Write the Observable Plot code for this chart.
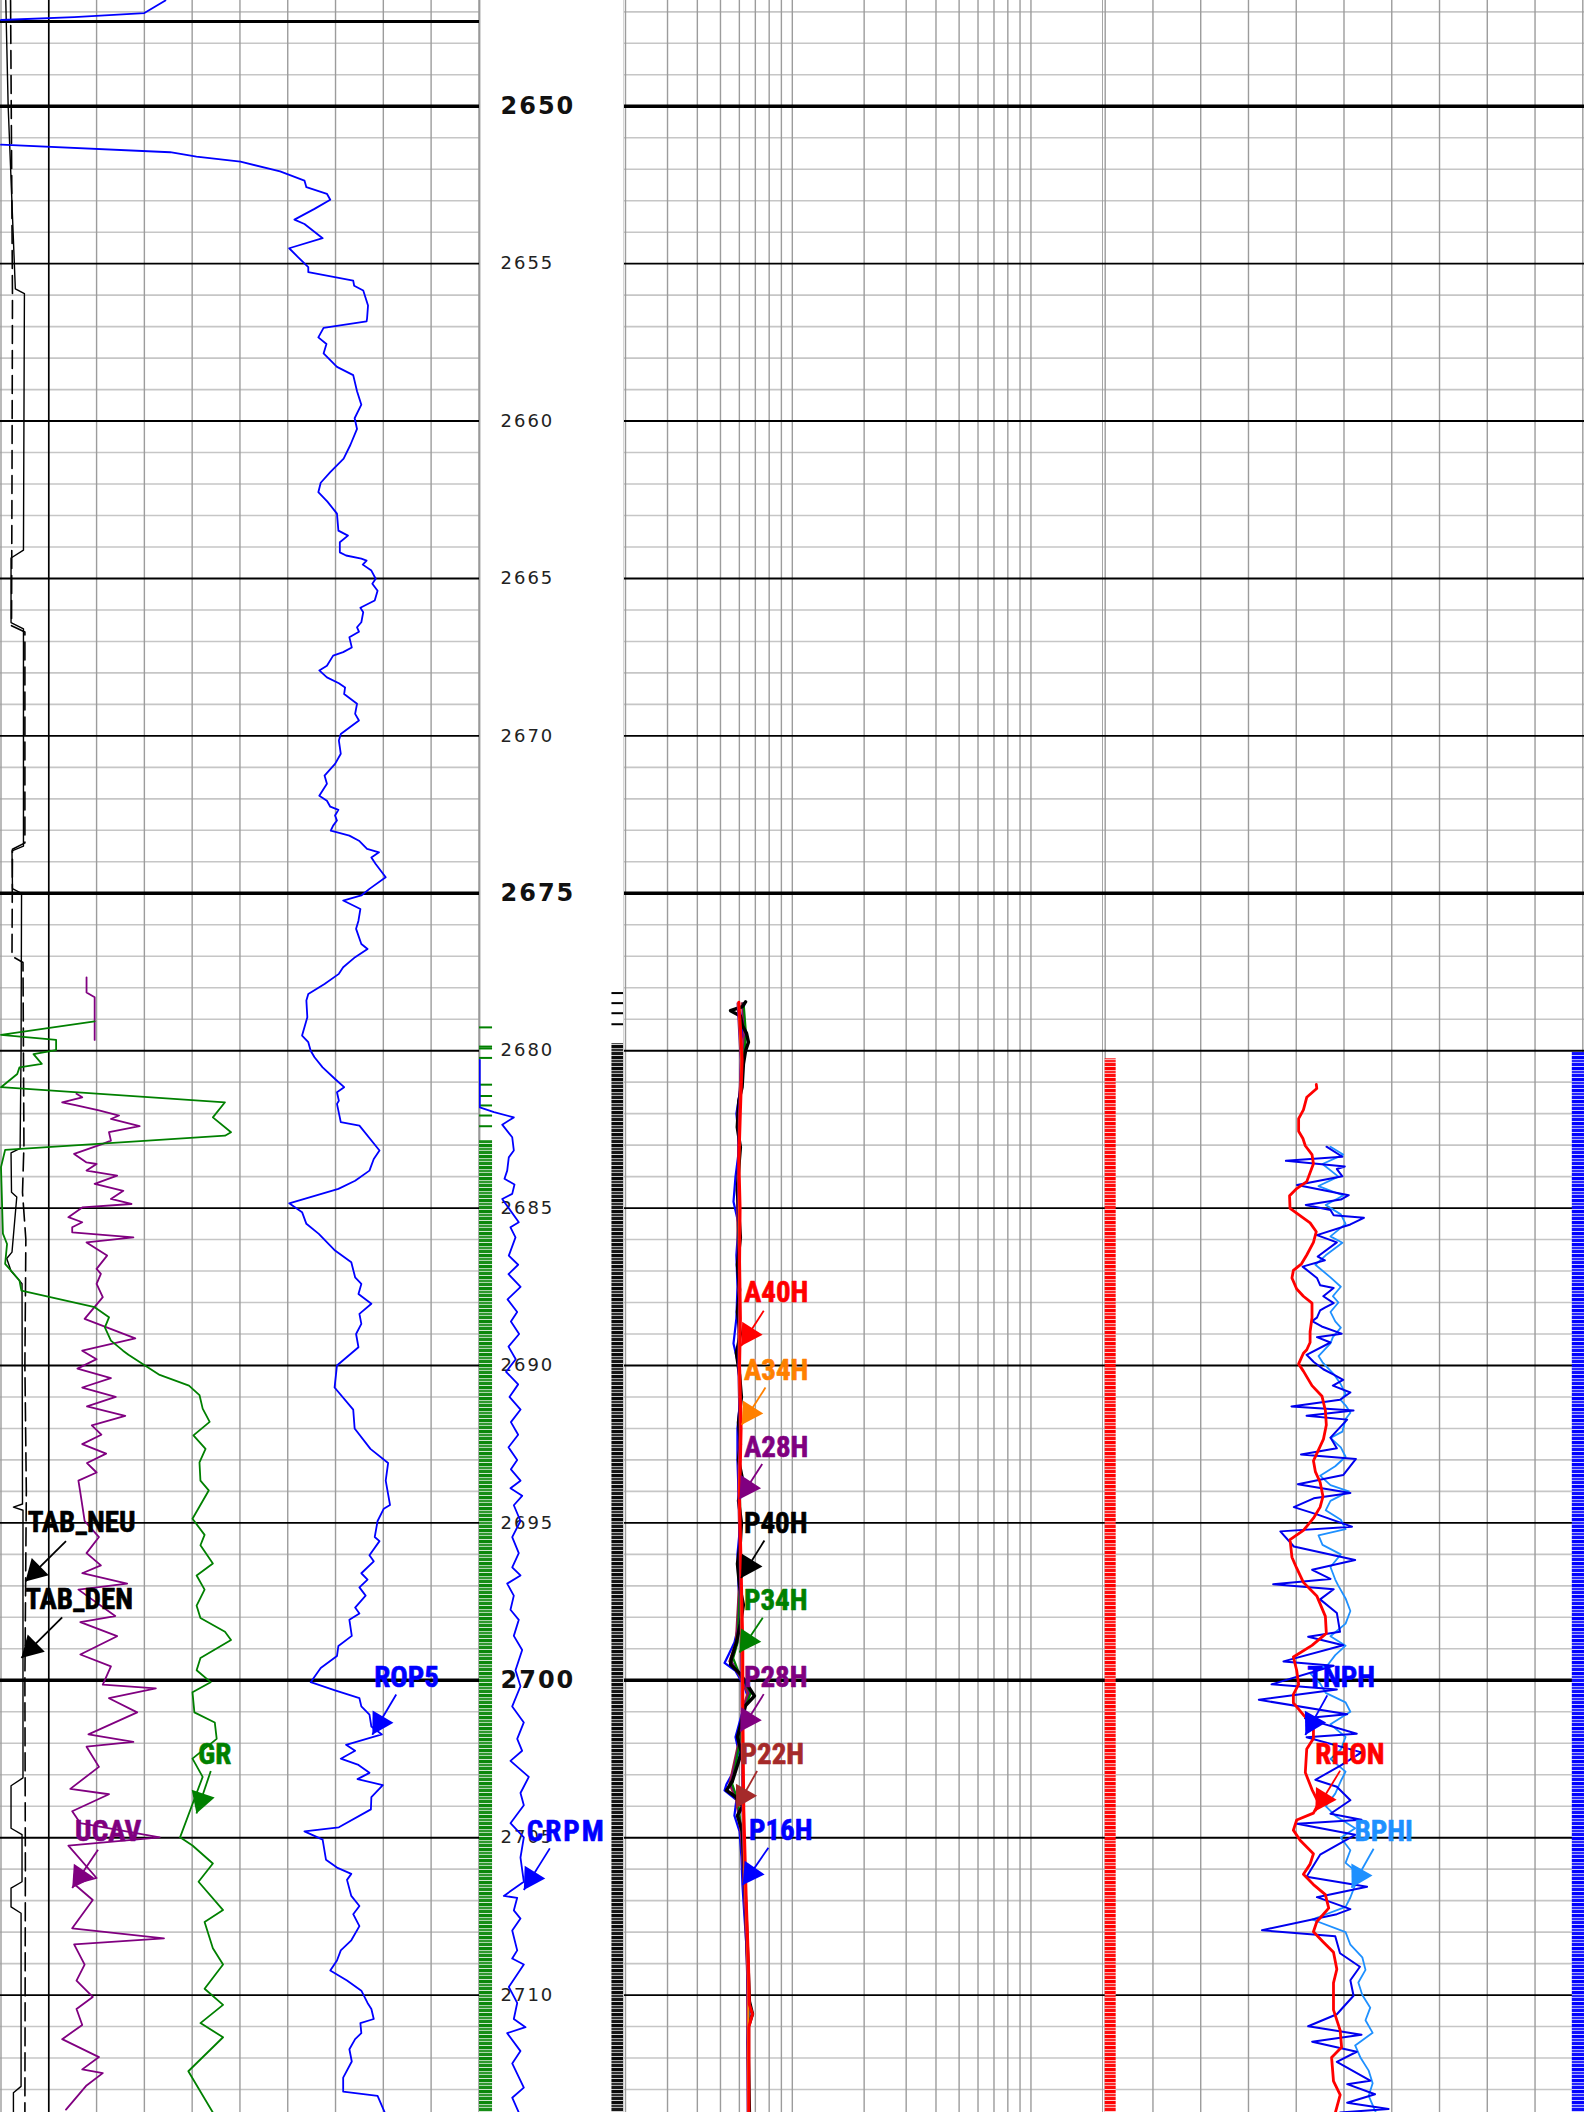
<!DOCTYPE html>
<html><head><meta charset="utf-8">
<script src="https://cdn.jsdelivr.net/npm/d3@7"></script>
<script src="https://cdn.jsdelivr.net/npm/@observablehq/plot@0.6"></script>
<style>
html,body{margin:0;padding:0;background:#fff;}
#wrap{display:flex;flex-direction:row;width:1584px;height:2112px;overflow:hidden;}
#wrap > div{flex:none;height:2112px;}
#wrap svg{display:block;max-width:none;}
</style></head><body><div id="wrap"></div>
<script>
// ---------------- depth window ----------------
const DEPTH_TOP = 2646.64, DEPTH_BOTTOM = 2713.73;
const TRACK1_MARKER = [2647.31];

// ---------------- track 1 curves [depth, value] ----------------
// ROP5 (m/h, 0-100), null = off scale
const ROP5 = [[2646.64,34.4],[2647.04,30.0],[2647.17,15.3],[2647.26,0],[2649,null],[2651.22,0],[2651.46,35.4],[2651.60,40.9],[2651.76,50.1],[2652.07,58.4],[2652.36,63.5],[2652.57,63.9],[2652.78,68.2],[2652.97,68.9],[2653.26,65.6],[2653.60,61.4],[2653.74,63.5],[2654.19,67.3],[2654.51,60.3],[2654.80,62.2],[2655.11,64.3],[2655.27,64.3],[2655.54,73.7],[2655.70,73.9],[2655.85,75.8],[2656.33,76.8],[2656.74,76.6],[2656.83,76.5],[2657.04,67.5],[2657.34,66.4],[2657.55,68.1],[2657.85,67.5],[2658.28,70.3],[2658.54,73.7],[2659.05,74.5],[2659.48,75.4],[2659.91,74.0],[2660.25,74.5],[2660.76,73.1],[2661.19,71.7],[2661.62,68.9],[2661.96,66.9],[2662.26,66.4],[2662.56,68.3],[2662.94,70.3],[2663.48,70.6],[2663.64,72.6],[2663.85,70.9],[2664.17,70.9],[2664.27,72.2],[2664.37,75.4],[2664.43,76.5],[2664.56,75.7],[2664.75,77.5],[2665.01,78.4],[2665.17,77.7],[2665.39,78.8],[2665.70,78.2],[2665.93,75.2],[2666.07,75.8],[2666.39,75.4],[2666.55,74.5],[2666.69,74.9],[2666.87,72.9],[2667.19,73.4],[2667.34,71.6],[2667.45,69.5],[2667.77,68.2],[2667.92,66.6],[2668.14,68.2],[2668.33,70.7],[2668.46,72.0],[2668.67,71.8],[2668.98,74.5],[2669.30,74.1],[2669.51,74.9],[2669.94,71.1],[2670.15,70.7],[2670.57,71.1],[2670.89,69.9],[2671.26,67.7],[2671.52,68.2],[2671.90,66.6],[2672.06,68.2],[2672.25,68.9],[2672.35,70.6],[2672.53,69.9],[2672.69,70.3],[2672.85,69.5],[2673.01,69.0],[2673.17,72.9],[2673.33,74.9],[2673.59,76.6],[2673.70,79.1],[2673.86,77.5],[2674.07,78.4],[2674.49,80.5],[2674.86,77.1],[2675.07,75.4],[2675.23,71.6],[2675.50,75.2],[2675.87,74.8],[2676.13,74.3],[2676.61,75.4],[2676.77,76.7],[2677.03,74.1],[2677.35,71.6],[2677.56,70.7],[2677.88,67.7],[2678.20,64.3],[2678.41,63.9],[2678.94,64.1],[2679.52,63.0],[2679.73,64.3],[2680.00,64.8],[2680.21,65.6],[2680.53,67.3],[2680.90,69.9],[2681.16,71.8],[2681.32,70.3],[2681.59,70.7],[2681.69,70.3],[2682.27,71.1],[2682.38,75.0],[2683.17,79.2],[2683.44,78.0],[2683.81,77.1],[2684.13,74.1],[2684.39,70.6],[2684.85,60.3],[2685.13,63.0],[2685.50,63.9],[2685.82,66.5],[2686.35,69.9],[2686.72,73.3],[2687.20,74.1],[2687.41,75.4],[2687.73,74.8],[2688.04,77.5],[2688.36,75.0],[2688.68,75.4],[2689.00,74.3],[2689.42,74.8],[2690.0,70.3],[2690.7,69.8],[2691.4,73.7],[2692.0,74.0],[2692.65,77.3],[2693.1,81.0],[2693.66,80.5],[2694.43,81.4],[2694.55,80.1],[2694.94,78.8],[2695.45,78.2],[2695.58,79.2],[2696.03,77.1],[2696.22,78.0],[2696.60,75.4],[2696.80,76.7],[2697.05,75.0],[2697.31,76.3],[2697.69,74.1],[2697.88,75.0],[2698.08,72.9],[2698.59,73.4],[2698.91,70.6],[2699.23,70.3],[2699.61,66.9],[2700.06,64.8],[2700.32,69.9],[2700.57,75.0],[2700.83,75.4],[2701.09,77.1],[2701.47,77.5],[2701.72,79.7],[2702.05,72.2],[2702.24,74.1],[2702.49,71.1],[2702.69,74.8],[2702.94,77.1],[2703.14,74.6],[2703.33,79.9],[2703.71,77.5],[2704.10,77.4],[2704.67,70.7],[2704.80,63.5],[2705.06,67.3],[2705.70,68.0],[2705.95,70.3],[2706.15,73.3],[2706.34,72.4],[2706.85,73.3],[2707.17,75.0],[2707.43,73.7],[2707.81,75.0],[2708.26,73.3],[2708.58,71.1],[2708.90,70.3],[2709.22,68.9],[2709.54,72.4],[2709.86,75.4],[2710.25,76.7],[2710.44,77.5],[2710.76,78.0],[2710.89,75.2],[2711.21,75.4],[2711.40,74.1],[2711.72,72.9],[2712.11,73.4],[2712.62,71.6],[2713.07,71.6],[2713.20,78.8],[2713.73,80.3]];

// GR (gAPI, 0-150)
const GR = [[2679.07,29.4],[2679.50,0],[2679.66,17.3],[2679.98,17.3],[2680.11,10.2],[2680.42,12.8],[2680.53,5.8],[2680.74,5.1],[2681.16,0],[2681.64,70.3],[2682.12,66.5],[2682.59,72.2],[2682.70,70.3],[2683.15,1.3],[2683.70,0],[2685.81,0.6],[2686.14,1.9],[2686.77,1.3],[2687.30,5.8],[2687.62,6.4],[2688.15,29.4],[2688.47,33.9],[2688.79,32.6],[2689.21,34.5],[2689.53,38.3],[2689.66,40.0],[2690.30,49.8],[2690.64,59.0],[2690.94,62.3],[2691.37,63.3],[2691.79,65.5],[2692.22,60.4],[2692.65,64.2],[2693.08,62.3],[2693.66,62.6],[2693.97,65.2],[2694.87,60.1],[2695.38,63.9],[2695.71,62.6],[2696.29,66.5],[2696.67,61.4],[2697.12,63.9],[2697.63,61.4],[2698.02,62.6],[2698.46,70.3],[2698.72,72.2],[2699.29,62.6],[2699.68,61.4],[2700.06,65.8],[2700.38,60.1],[2701.02,60.7],[2701.34,67.1],[2701.86,67.7],[2702.49,60.1],[2703.07,63.3],[2703.77,60.7],[2704.99,56.2],[2705.25,60.1],[2705.82,66.5],[2706.40,62.0],[2707.30,69.7],[2707.68,63.9],[2708.51,66.5],[2709.03,69.7],[2709.80,63.9],[2710.31,69.7],[2710.89,62.6],[2711.34,69.7],[2712.42,58.8],[2713.73,66.5]];

// UCAV (in, 6-16)
const UCAV = [[2677.67,7.79],[2678.15,7.79],[2678.30,7.96],[2679.66,7.96],[2680.5,null],[2681.37,7.58],[2681.48,7.70],[2681.64,7.28],[2681.74,7.58],[2681.90,8.05],[2682.06,8.47],[2682.17,8.30],[2682.40,8.90],[2682.59,8.26],[2682.86,8.30],[2682.96,8.13],[2683.28,7.53],[2683.55,7.79],[2683.60,8.00],[2683.81,7.79],[2683.97,8.43],[2684.23,7.96],[2684.45,8.56],[2684.71,8.30],[2684.87,8.73],[2684.98,7.70],[2685.29,7.41],[2685.45,7.70],[2685.61,7.49],[2685.77,7.49],[2685.93,8.77],[2686.09,7.79],[2686.51,8.22],[2686.93,8.00],[2687.09,8.09],[2687.41,8.00],[2687.83,8.13],[2688.52,7.75],[2689.14,8.81],[2689.53,7.70],[2689.8,8.0],[2690.1,7.6],[2690.4,8.3],[2690.7,7.7],[2691.0,8.4],[2691.3,7.8],[2691.6,8.6],[2691.9,7.9],[2692.2,8.1],[2692.5,7.7],[2692.8,8.2],[2693.1,7.8],[2693.4,8.0],[2693.66,7.62],[2694.04,7.66],[2694.94,7.75],[2695.45,8.05],[2695.96,7.79],[2696.35,8.09],[2696.60,7.70],[2696.93,8.64],[2697.12,7.62],[2697.96,8.39],[2698.15,7.66],[2698.60,8.43],[2699.18,7.66],[2699.56,8.30],[2700.14,8.13],[2700.26,9.24],[2700.57,8.26],[2701.02,8.85],[2701.72,7.83],[2701.96,8.77],[2702.11,7.79],[2702.75,8.05],[2703.45,7.45],[2703.62,8.26],[2704.16,7.49],[2704.54,7.66],[2704.99,9.32],[2705.25,7.41],[2706.28,8.00],[2706.47,7.53],[2706.98,7.92],[2707.88,7.49],[2708.20,9.41],[2708.39,7.53],[2709.03,7.75],[2709.54,7.58],[2710.06,7.92],[2710.44,7.58],[2710.95,7.70],[2711.40,7.28],[2711.97,8.05],[2712.36,7.70],[2712.48,8.13],[2712.87,7.79],[2713.64,7.36]];

// TAB_NEU / TAB_DEN (h, 0-100)
const TAB_NEU = [[2646.64,1.0],[2650,1.5],[2655.8,3.0],[2655.95,4.9],[2664.1,4.7],[2664.35,2.1],[2666.4,2.1],[2666.6,4.7],[2673.5,4.7],[2673.65,2.3],[2674.85,2.4],[2675.0,4.3],[2680.0,4.2],[2683.1,4.0],[2683.25,2.1],[2684.5,2.2],[2684.65,3.3],[2686.4,2.3],[2686.6,1.2],[2687.0,2.1],[2687.4,4.4],[2694.4,4.5],[2694.5,2.6],[2694.6,4.6],[2703.1,4.6],[2703.35,2.1],[2704.7,2.1],[2704.9,4.4],[2706.4,4.4],[2706.6,2.1],[2707.2,2.1],[2707.4,4.2],[2712.9,4.2],[2713.1,2.6],[2713.73,2.6]];
const TAB_DEN = [[2646.64,2.0],[2656,2.4],[2662,2.3],[2666.5,2.2],[2666.7,5.0],[2673.4,5.0],[2673.6,2.4],[2677,2.3],[2677.2,4.6],[2683,4.8],[2684.5,4.5],[2686,5.2],[2690,5.0],[2694,5.3],[2700,5.0],[2706,5.1],[2713.73,5.0]];

// ---------------- depth track: CRPM (rpm, 0-300) ----------------
const CRPM = [[2680.29,0.6],[2681.80,0.6],[2681.95,30],[2682.12,71],[2682.35,47],[2682.75,67.7],[2683.17,71],[2683.39,60.6],[2683.81,57.3],[2684.07,51.7],[2684.25,72.4],[2684.55,67.7],[2684.71,47],[2685.45,81.3],[2685.61,64.1],[2685.93,74.5],[2686.51,60.6],[2686.8,80],[2687.1,60],[2687.5,85],[2687.9,58],[2688.3,78],[2688.6,65],[2689.0,82],[2689.4,60],[2689.8,75],[2690.2,55],[2690.6,80],[2691.0,62],[2691.4,85],[2691.8,65],[2692.2,80],[2692.6,60],[2693.0,78],[2693.3,65],[2693.66,84.8],[2693.9,64.1],[2694.14,88.3],[2694.44,71],[2694.94,84.8],[2695.45,67.7],[2695.96,81.3],[2696.41,67.7],[2696.67,84.8],[2696.93,57.3],[2697.31,71],[2697.76,64.1],[2698.08,81.3],[2698.59,71],[2699.04,88.3],[2699.68,74.5],[2700.19,84.8],[2700.83,67.7],[2701.34,91.7],[2701.86,78],[2702.24,88.3],[2702.56,64.1],[2703.07,102],[2703.58,84.8],[2703.97,91.7],[2704.54,64.1],[2704.99,91.7],[2705.63,84.8],[2706.40,91.7],[2706.85,50.3],[2706.91,78],[2707.31,71],[2707.57,84.8],[2707.95,67.7],[2708.58,78],[2708.84,67.7],[2709.03,91.7],[2709.74,60.6],[2710.25,78],[2710.76,71],[2711.02,95.2],[2711.21,57.3],[2711.78,84.8],[2712.17,67.7],[2712.94,91.7],[2713.26,67.7],[2713.73,81.3]];
const GREEN_FLAG_TICKS = [2679.26,2679.87,2679.93,2680.23,2681.08,2681.44,2681.74,2682.06,2682.40];
const GREEN_FLAG_BAND = [[2682.86,2713.73]];
const BLACK_FLAG_TICKS = [2678.17,2678.49,2678.81,2679.16];
const BLACK_FLAG_BAND = [[2679.78,2713.73]];

// ---------------- track 2: resistivity (ohm.m, log 0.2-20) ----------------
const A40H = [[2678.46,0.597],[2679.5,0.609],[2680.3,0.616],[2681.9,0.606],[2683.5,0.597],[2685.0,0.604],[2686.7,0.601],[2688.5,0.606],[2690.0,0.601],[2692.0,0.610],[2694.25,0.601],[2696.4,0.610],[2698.9,0.620],[2700.8,0.620],[2704.1,0.626],[2707.0,0.641],[2709.0,0.655],[2710.3,0.661],[2710.6,0.681],[2711.0,0.658],[2713.73,0.658]];
const A34H = [[2678.5,0.595],[2680.3,0.612],[2682,0.603],[2684,0.597],[2686,0.600],[2688,0.603],[2690,0.598],[2692,0.607],[2694,0.598],[2696,0.607],[2698,0.612],[2700,0.616],[2702,0.618],[2704,0.622],[2706,0.630],[2708,0.645],[2710,0.655],[2712,0.652],[2713.73,0.655]];
const A28H = [[2678.5,0.590],[2680.3,0.608],[2682,0.598],[2684,0.592],[2686,0.596],[2688,0.598],[2690,0.594],[2692,0.602],[2694,0.594],[2696,0.602],[2698,0.608],[2700,0.612],[2702,0.614],[2704,0.618],[2706,0.626],[2708,0.640],[2710,0.650],[2712,0.648],[2713.73,0.650]];
const P40H = [[2678.45,0.637],[2678.6,0.618],[2678.73,0.551],[2678.9,0.606],[2679.2,0.618],[2679.45,0.643],[2679.73,0.655],[2680.0,0.637],[2680.42,0.624],[2681.16,0.616],[2681.59,0.597],[2682.43,0.588],[2683.07,0.606],[2683.8,0.595],[2684.44,0.588],[2685.18,0.597],[2685.93,0.606],[2686.8,0.589],[2687.6,0.601],[2688.3,0.589],[2689.0,0.606],[2689.6,0.583],[2690.3,0.601],[2691.0,0.612],[2691.8,0.595],[2692.5,0.606],[2693.0,0.595],[2693.6,0.618],[2694.3,0.595],[2695.0,0.612],[2695.6,0.606],[2696.3,0.589],[2697.0,0.601],[2697.6,0.624],[2698.2,0.606],[2698.8,0.583],[2699.3,0.556],[2699.5,0.551],[2699.8,0.606],[2700.2,0.655],[2700.5,0.694],[2700.8,0.637],[2701.2,0.618],[2701.8,0.589],[2702.3,0.612],[2702.8,0.583],[2703.2,0.561],[2703.5,0.530],[2703.7,0.578],[2704.0,0.618],[2704.3,0.589],[2704.8,0.618],[2705.5,0.624],[2706.2,0.630],[2707.0,0.637],[2707.8,0.643],[2708.6,0.649],[2709.4,0.655],[2710.2,0.661],[2710.6,0.681],[2711.0,0.655],[2712.0,0.655],[2713.73,0.661]];
const P34H = [[2678.5,0.625],[2679.5,0.640],[2680.5,0.620],[2682.0,0.595],[2683.5,0.600],[2685.0,0.592],[2687.0,0.597],[2689.0,0.600],[2691.0,0.606],[2693.0,0.600],[2695.0,0.606],[2697.0,0.603],[2698.8,0.590],[2699.3,0.565],[2699.8,0.600],[2700.4,0.670],[2700.9,0.630],[2702.0,0.600],[2703.3,0.560],[2703.8,0.590],[2705.0,0.618],[2707.0,0.635],[2709.0,0.650],[2711.0,0.655],[2713.73,0.658]];
const P28H = [[2678.5,0.620],[2679.5,0.635],[2680.5,0.618],[2682.0,0.592],[2683.5,0.598],[2685.0,0.590],[2687.0,0.595],[2689.0,0.598],[2691.0,0.604],[2693.0,0.598],[2695.0,0.604],[2697.0,0.600],[2698.8,0.585],[2699.4,0.555],[2699.8,0.598],[2700.4,0.660],[2700.9,0.625],[2702.0,0.597],[2703.3,0.552],[2703.8,0.586],[2705.0,0.615],[2707.0,0.632],[2709.0,0.648],[2711.0,0.652],[2713.73,0.655]];
const P22H = [[2678.5,0.615],[2679.5,0.630],[2680.5,0.615],[2682.0,0.590],[2683.5,0.596],[2685.0,0.588],[2687.0,0.593],[2689.0,0.595],[2691.0,0.602],[2693.0,0.596],[2695.0,0.602],[2697.0,0.598],[2698.8,0.580],[2699.4,0.545],[2699.8,0.596],[2700.4,0.650],[2700.9,0.620],[2702.0,0.594],[2703.3,0.545],[2703.8,0.582],[2705.0,0.612],[2707.0,0.630],[2709.0,0.646],[2711.0,0.650],[2713.73,0.653]];
const P16H = [[2678.5,0.630],[2679.0,0.612],[2680.0,0.630],[2681.0,0.612],[2682.0,0.583],[2683.0,0.601],[2684.0,0.578],[2684.8,0.567],[2685.5,0.595],[2686.5,0.583],[2687.5,0.589],[2688.5,0.583],[2689.3,0.567],[2690.0,0.595],[2691.0,0.606],[2692.0,0.589],[2693.0,0.589],[2694.0,0.595],[2695.0,0.606],[2696.0,0.589],[2697.0,0.595],[2698.0,0.606],[2698.8,0.572],[2699.2,0.540],[2699.45,0.520],[2699.7,0.578],[2700.2,0.630],[2700.6,0.655],[2701.0,0.618],[2701.8,0.578],[2702.4,0.601],[2702.9,0.567],[2703.3,0.530],[2703.5,0.520],[2703.8,0.583],[2704.3,0.572],[2704.8,0.601],[2705.6,0.612],[2706.5,0.618],[2707.5,0.630],[2708.5,0.643],[2709.5,0.649],[2710.5,0.661],[2711.5,0.649],[2712.5,0.655],[2713.73,0.655]];

// ---------------- track 3: density / neutron ----------------
// RHON (g/cc, 1.95-2.95)
const RHON = [[2681.07,2.392],[2681.2,2.393],[2681.48,2.372],[2681.88,2.365],[2682.16,2.355],[2682.56,2.355],[2682.79,2.364],[2683.02,2.369],[2683.30,2.383],[2683.59,2.386],[2684.16,2.372],[2684.38,2.351],[2684.61,2.336],[2685.01,2.337],[2685.24,2.358],[2685.47,2.379],[2685.75,2.392],[2686.09,2.386],[2686.49,2.372],[2686.77,2.361],[2686.98,2.344],[2687.22,2.341],[2687.57,2.351],[2687.80,2.365],[2688.02,2.383],[2688.48,2.383],[2688.93,2.379],[2689.27,2.379],[2689.50,2.372],[2689.61,2.365],[2689.95,2.355],[2690.18,2.365],[2690.64,2.383],[2690.98,2.404],[2691.43,2.411],[2691.89,2.413],[2692.34,2.407],[2692.80,2.393],[2693.03,2.386],[2693.37,2.390],[2693.71,2.400],[2694.16,2.406],[2694.50,2.400],[2694.85,2.386],[2695.24,2.365],[2695.53,2.337],[2696.09,2.341],[2696.44,2.351],[2696.89,2.365],[2697.32,2.393],[2697.97,2.411],[2698.51,2.413],[2698.89,2.383],[2699.26,2.344],[2699.69,2.351],[2700.13,2.355],[2700.45,2.344],[2700.72,2.344],[2701.10,2.365],[2701.42,2.386],[2701.85,2.386],[2702.18,2.372],[2702.93,2.369],[2703.47,2.383],[2703.90,2.397],[2704.22,2.386],[2704.44,2.351],[2704.76,2.344],[2705.08,2.358],[2705.51,2.386],[2705.84,2.379],[2706.16,2.365],[2706.49,2.386],[2706.81,2.411],[2707.24,2.418],[2707.67,2.393],[2707.99,2.386],[2708.32,2.407],[2708.64,2.428],[2709.18,2.435],[2709.61,2.428],[2710.47,2.428],[2711.12,2.442],[2711.66,2.445],[2711.98,2.424],[2712.73,2.428],[2713.17,2.442],[2713.73,2.432]];
// TNPH (v/v, 0.45 to -0.15)
const TNPH = [[2683.05,0.172],[2683.37,0.152],[2683.50,0.223],[2683.68,0.149],[2683.76,0.159],[2683.99,0.152],[2684.27,0.209],[2684.59,0.144],[2684.73,0.154],[2684.90,0.198],[2685.06,0.167],[2685.23,0.163],[2685.31,0.125],[2685.52,0.142],[2685.86,0.184],[2686.09,0.159],[2686.54,0.183],[2686.66,0.174],[2686.86,0.202],[2687.22,0.184],[2687.45,0.180],[2687.54,0.163],[2687.80,0.176],[2688.02,0.163],[2688.16,0.174],[2688.25,0.180],[2688.48,0.184],[2688.59,0.190],[2688.76,0.178],[2688.99,0.153],[2689.10,0.184],[2689.27,0.167],[2689.66,0.197],[2689.89,0.188],[2690.12,0.176],[2690.29,0.163],[2690.46,0.151],[2690.64,0.164],[2690.86,0.142],[2691.09,0.155],[2691.30,0.216],[2691.43,0.138],[2691.60,0.197],[2691.72,0.146],[2692.29,0.167],[2692.63,0.159],[2692.83,0.204],[2692.97,0.135],[2693.48,0.151],[2693.77,0.208],[2694.05,0.142],[2694.22,0.188],[2694.50,0.213],[2694.73,0.184],[2695.12,0.140],[2695.27,0.230],[2695.75,0.213],[2696.18,0.136],[2696.49,0.190],[2696.78,0.167],[2696.95,0.239],[2697.11,0.163],[2697.43,0.180],[2697.86,0.159],[2698.46,0.155],[2698.62,0.195],[2698.89,0.151],[2699.40,0.226],[2699.54,0.163],[2700.13,0.241],[2700.29,0.159],[2700.62,0.257],[2701.08,0.146],[2701.21,0.199],[2701.70,0.134],[2701.81,0.197],[2702.29,0.128],[2702.72,0.155],[2703.16,0.186],[2703.38,0.159],[2703.81,0.142],[2704.24,0.167],[2704.43,0.128],[2704.56,0.209],[2704.91,0.136],[2705.54,0.180],[2706.24,0.197],[2706.56,0.121],[2706.89,0.184],[2707.27,0.142],[2707.43,0.159],[2707.94,0.253],[2708.13,0.161],[2708.67,0.155],[2709.10,0.130],[2709.53,0.142],[2710.02,0.138],[2710.61,0.159],[2710.99,0.195],[2711.26,0.128],[2711.48,0.190],[2711.80,0.134],[2712.12,0.159],[2712.72,0.117],[2712.83,0.146],[2713.15,0.111],[2713.42,0.146],[2713.62,0.094],[2713.73,0.155]];
// BPHI (v/v, 0.45 to -0.15)
const BPHI = [[2683.05,0.167],[2683.3,0.151],[2683.6,0.177],[2684.0,0.157],[2684.3,0.182],[2684.6,0.151],[2684.9,0.173],[2685.2,0.154],[2685.5,0.148],[2685.9,0.167],[2686.1,0.152],[2686.5,0.173],[2686.8,0.186],[2687.2,0.167],[2687.5,0.154],[2687.8,0.164],[2688.0,0.157],[2688.3,0.167],[2688.6,0.161],[2688.8,0.154],[2689.1,0.164],[2689.3,0.167],[2689.7,0.182],[2689.9,0.177],[2690.3,0.162],[2690.6,0.154],[2690.9,0.148],[2691.1,0.154],[2691.3,0.147],[2691.5,0.142],[2691.7,0.148],[2692.1,0.152],[2692.3,0.167],[2692.6,0.154],[2692.9,0.148],[2693.2,0.161],[2693.5,0.180],[2693.8,0.167],[2694.0,0.144],[2694.3,0.167],[2694.6,0.173],[2694.9,0.154],[2695.2,0.148],[2695.4,0.182],[2695.7,0.177],[2696.0,0.154],[2696.4,0.167],[2696.8,0.161],[2697.0,0.157],[2697.4,0.148],[2697.8,0.142],[2698.2,0.148],[2698.6,0.167],[2698.9,0.148],[2699.2,0.161],[2699.5,0.170],[2699.8,0.192],[2700.1,0.180],[2700.4,0.173],[2700.7,0.148],[2701.0,0.142],[2701.4,0.167],[2701.8,0.148],[2702.2,0.154],[2702.5,0.167],[2702.9,0.148],[2703.2,0.154],[2703.6,0.161],[2704.0,0.173],[2704.3,0.161],[2704.7,0.136],[2705.0,0.154],[2705.4,0.142],[2705.8,0.148],[2706.2,0.129],[2706.5,0.136],[2706.9,0.142],[2707.2,0.148],[2707.6,0.190],[2708.0,0.148],[2708.4,0.142],[2708.8,0.127],[2709.2,0.123],[2709.6,0.132],[2710.0,0.127],[2710.4,0.117],[2710.8,0.123],[2711.2,0.114],[2711.6,0.136],[2712.0,0.129],[2712.4,0.119],[2712.8,0.114],[2713.2,0.119],[2713.73,0.110]];
const RED_FLAG_BAND = [[2680.26,2713.73]];
const BLUE_FLAG_BAND = [[2680.06,2713.73]];

// ---------------- grid / ticks ----------------
const DEPTH_LABELS = [2650,2655,2660,2665,2670,2675,2680,2685,2690,2695,2700,2705,2710];
const T1_GRID = [0,10,20,30,40,50,60,70,80,90,100];
const T2_GRID = [0.2,0.3,0.4,0.5,0.6,0.7,0.8,0.9,1,2,3,4,5,6,7,8,9,10,20];
const T3_GRID = [0,10,20,30,40,50,60,70,80,90,100];

// ---------------- curve labels (track units) ----------------
const T1_LABELS = [
  {name:"TAB_NEU", color:"black",  lx:5.6,  ld:2694.99, sx:13.6, sd:2695.58, tx:5.1,  td:2696.86},
  {name:"TAB_DEN", color:"black",  lx:5.1,  ld:2697.44, sx:12.8, sd:2698.00, tx:4.26, td:2699.29},
  {name:"ROP5",    color:"blue",   lx:78.1, ld:2699.91, sx:82.7, sd:2700.45, tx:77.7, td:2701.73},
  {name:"GR",      color:"green",  lx:41.3, ld:2702.36, sx:43.9, sd:2702.88, tx:40.9, td:2704.23},
  {name:"UCAV",    color:"purple", lx:15.5, ld:2704.81, sx:20.3, sd:2705.38, tx:14.9, td:2706.60}
];
const DT_LABELS = [
  {name:"CRPM", color:"blue", lx:97.5, ld:2704.81, sx:145.5, sd:2705.34, tx:91.7, td:2706.66}
];
const T2_LABELS = [
  {name:"A40H", color:"red",     lx:0.627, ld:2687.70, sx:0.759, sd:2688.26, tx:0.610, td:2689.38},
  {name:"A34H", color:"#ff8000", lx:0.627, ld:2690.16, sx:0.772, sd:2690.70, tx:0.614, td:2691.88},
  {name:"A28H", color:"purple",  lx:0.627, ld:2692.61, sx:0.748, sd:2693.13, tx:0.601, td:2694.25},
  {name:"P40H", color:"black",   lx:0.627, ld:2695.04, sx:0.764, sd:2695.56, tx:0.610, td:2696.75},
  {name:"P34H", color:"green",   lx:0.627, ld:2697.48, sx:0.752, sd:2698.01, tx:0.601, td:2699.12},
  {name:"P28H", color:"purple",  lx:0.627, ld:2699.91, sx:0.759, sd:2700.44, tx:0.606, td:2701.63},
  {name:"P22H", color:"#a52a2a", lx:0.607, ld:2702.35, sx:0.712, sd:2702.88, tx:0.582, td:2704.06},
  {name:"P16H", color:"blue",    lx:0.658, ld:2704.78, sx:0.794, sd:2705.32, tx:0.620, td:2706.50}
];
const T3_LABELS = [
  {name:"TNPH", color:"blue",    lx:42.3, ld:2699.91, sx:46.5, sd:2700.48, tx:41.9, td:2701.74},
  {name:"RHON", color:"red",     lx:44.0, ld:2702.36, sx:49.2, sd:2702.87, tx:44.0, td:2704.16},
  {name:"BPHI", color:"#1e90ff", lx:52.2, ld:2704.81, sx:56.2, sd:2705.35, tx:51.6, td:2706.59}
];

// ============== rendering ==============
const H = 2112;
const Y = {domain:[DEPTH_TOP, DEPTH_BOTTOM], range:[0, H]};
const LABEL_FONT = "'Liberation Sans Narrow','Arial Narrow','Roboto Condensed','Liberation Sans',sans-serif";
const ints = d3.range(Math.ceil(DEPTH_TOP), Math.floor(DEPTH_BOTTOM) + 1);
const MINOR = ints.filter(d => d % 5 !== 0);
const FIVE = ints.filter(d => d % 5 === 0 && d % 25 !== 0);
const MAJOR = ints.filter(d => d % 25 === 0);

const v = f => d => (d[1] == null ? NaN : f(d[1]));
const dep = d => d[0];

function hGridMinor() { return Plot.ruleY(MINOR, {stroke:"#c6c6c6", strokeWidth:1.6}); }
function hGridMajor() {
  return [Plot.ruleY(FIVE, {stroke:"#000", strokeWidth:1.9}),
          Plot.ruleY(MAJOR, {stroke:"#000", strokeWidth:3.4})];
}
function annotate(list, xopts) {
  const XS = Plot.scale({x: xopts}), YS = Plot.scale({y: Y});
  const r = 9;
  const off = 2 * Math.sqrt(r * r * Math.PI / (3 * Math.sqrt(3)));
  const heads = list.map(a => {
    const x1 = XS.apply(a.sx), y1 = YS.apply(a.sd), x2 = XS.apply(a.tx), y2 = YS.apply(a.td);
    const dx = x2 - x1, dy = y2 - y1, L = Math.hypot(dx, dy);
    return {...a, hx: XS.invert(x2 - dx / L * off), hd: YS.invert(y2 - dy / L * off),
            rot: Math.atan2(dx, -dy) * 180 / Math.PI};
  });
  return [
    Plot.link(list, {x1:"sx", y1:"sd", x2:"tx", y2:"td", stroke:"color", strokeWidth:1.8}),
    Plot.dot(heads, {x:"hx", y:"hd", symbol:"triangle", r, rotate:"rot", fill:"color", stroke:"none"}),
    Plot.text(list, {x:"lx", y:"ld", text:"name", fill:"color", stroke:"color", strokeWidth:0.6,
                     textAnchor:"start", fontSize:29, fontWeight:"bold", fontFamily:LABEL_FONT})
  ];
}
function track(width, xopts, marks) {
  const svg = Plot.plot({width, height:H, margin:0, x:{...xopts, axis:null}, y:{...Y, axis:null},
                         color:{type:"identity"}, style:{background:"white"}, marks});
  const div = document.createElement("div");
  div.style.width = width + "px";
  div.appendChild(svg);
  document.getElementById("wrap").appendChild(div);
  return svg;
}
function addPatterns(svg) {
  const defs = d3.select(svg).insert("defs", ":first-child");
  [["stripeGreen","#0b870b"],["stripeBlack","#0a0a0a"],["stripeRed","#ff0000"],["stripeBlue","#0000ff"]]
    .forEach(([id, c]) => {
      const p = defs.append("pattern").attr("id", id).attr("patternUnits","userSpaceOnUse")
        .attr("width", 20).attr("height", 11);
      p.append("rect").attr("width",20).attr("height",11).attr("fill", "#fff");
      p.append("rect").attr("y",0).attr("width",20).attr("height",3.2).attr("fill", c);
      p.append("rect").attr("y",3.8).attr("width",20).attr("height",2.4).attr("fill", c).attr("opacity",0.85);
      p.append("rect").attr("y",6.8).attr("width",20).attr("height",3.4).attr("fill", c).attr("opacity",0.95);
    });
}

// ---- Track 1 ----
const X1 = {domain:[0,100], range:[0.5,478.4]};
track(479, X1, [
  hGridMinor(),
  Plot.ruleX(T1_GRID.filter(g => g !== 10), {stroke:"#9c9c9c", strokeWidth:1.4}),
  Plot.ruleX([10], {stroke:"#000", strokeWidth:1.7}),
  ...hGridMajor(),
  Plot.ruleY(TRACK1_MARKER, {stroke:"#000", strokeWidth:3}),
  Plot.line(TAB_DEN, {x:v(t => t), y:dep, stroke:"#000", strokeWidth:1.6, strokeDasharray:"18,7"}),
  Plot.line(TAB_NEU, {x:v(t => t), y:dep, stroke:"#000", strokeWidth:1.4}),
  Plot.line(UCAV, {x:v(c => (c - 6) * 10), y:dep, stroke:"purple", strokeWidth:1.8}),
  Plot.line(GR, {x:v(g => g / 1.5), y:dep, stroke:"green", strokeWidth:1.8}),
  Plot.line(ROP5, {x:v(r => r), y:dep, stroke:"blue", strokeWidth:1.8}),
  ...annotate(T1_LABELS, X1)
]);

// ---- Depth track ----
const XD = {domain:[0,300], range:[0,145]};
const dsvg = track(145, XD, [
  Plot.ruleX([0,300], {stroke:"#999", strokeWidth:1.8}),
  Plot.text(DEPTH_LABELS.filter(d => d % 25 !== 0), {y:d => d, text:d => String(d), frameAnchor:"left", dx:21,
    textAnchor:"start", fontSize:18, fontFamily:"'DejaVu Sans',sans-serif", fill:"#222"}),
  Plot.text(DEPTH_LABELS.filter(d => d % 25 === 0), {y:d => d, text:d => String(d), frameAnchor:"left", dx:21,
    textAnchor:"start", fontSize:24, fontWeight:"bold", fontFamily:"'DejaVu Sans',sans-serif", fill:"#111"}),
  Plot.ruleY(GREEN_FLAG_TICKS, {x1:0, x2:27, stroke:"green", strokeWidth:2}),
  Plot.rect(GREEN_FLAG_BAND, {x1:0, x2:27, y1:d => d[0], y2:d => d[1], fill:"url(#stripeGreen)"}),
  Plot.ruleY(BLACK_FLAG_TICKS, {x1:274, x2:298, stroke:"#000", strokeWidth:2}),
  Plot.rect(BLACK_FLAG_BAND, {x1:274, x2:298, y1:d => d[0], y2:d => d[1], fill:"url(#stripeBlack)"}),
  Plot.line(CRPM, {x:v(c => c), y:dep, stroke:"blue", strokeWidth:1.8}),
  ...annotate(DT_LABELS, XD)
]);
addPatterns(dsvg);
d3.select(dsvg).selectAll("g[aria-label=text] text").attr("letter-spacing", "2");

// ---- Track 2 ----
const X2 = {type:"log", domain:[0.2,20], range:[1,478.3]};
track(479, X2, [
  hGridMinor(),
  Plot.ruleX(T2_GRID, {stroke:"#9c9c9c", strokeWidth:1.4}),
  ...hGridMajor(),
  Plot.line(P16H, {x:v(r => r), y:dep, stroke:"blue", strokeWidth:2.2}),
  Plot.line(P22H, {x:v(r => r), y:dep, stroke:"#a52a2a", strokeWidth:2.2}),
  Plot.line(P28H, {x:v(r => r), y:dep, stroke:"purple", strokeWidth:2.2}),
  Plot.line(P34H, {x:v(r => r), y:dep, stroke:"green", strokeWidth:2.2}),
  Plot.line(P40H, {x:v(r => r), y:dep, stroke:"#000", strokeWidth:3.4}),
  Plot.line(A28H, {x:v(r => r), y:dep, stroke:"purple", strokeWidth:2.2}),
  Plot.line(A34H, {x:v(r => r), y:dep, stroke:"#ff8000", strokeWidth:2.2}),
  Plot.line(A40H, {x:v(r => r), y:dep, stroke:"red", strokeWidth:3}),
  ...annotate(T2_LABELS, X2)
]);

// ---- Track 3 ----
const X3 = {domain:[0,100], range:[1.7,479.3]};
track(481, X3, [
  hGridMinor(),
  Plot.ruleX(T3_GRID, {stroke:"#9c9c9c", strokeWidth:1.4}),
  ...hGridMajor(),
  Plot.rect(RED_FLAG_BAND, {x1:0, x2:2.3, y1:d => d[0], y2:d => d[1], fill:"url(#stripeRed)"}),
  Plot.rect(BLUE_FLAG_BAND, {x1:97.8, x2:100.4, y1:d => d[0], y2:d => d[1], fill:"url(#stripeBlue)"}),
  Plot.line(BPHI, {x:v(n => (0.45 - n) / 0.6 * 100), y:dep, stroke:"#1e90ff", strokeWidth:1.8}),
  Plot.line(TNPH, {x:v(n => (0.45 - n) / 0.6 * 100), y:dep, stroke:"#0000ee", strokeWidth:2}),
  Plot.line(RHON, {x:v(r => (r - 1.95) * 100), y:dep, stroke:"red", strokeWidth:2.8}),
  ...annotate(T3_LABELS, X3)
]);
</script></body></html>
